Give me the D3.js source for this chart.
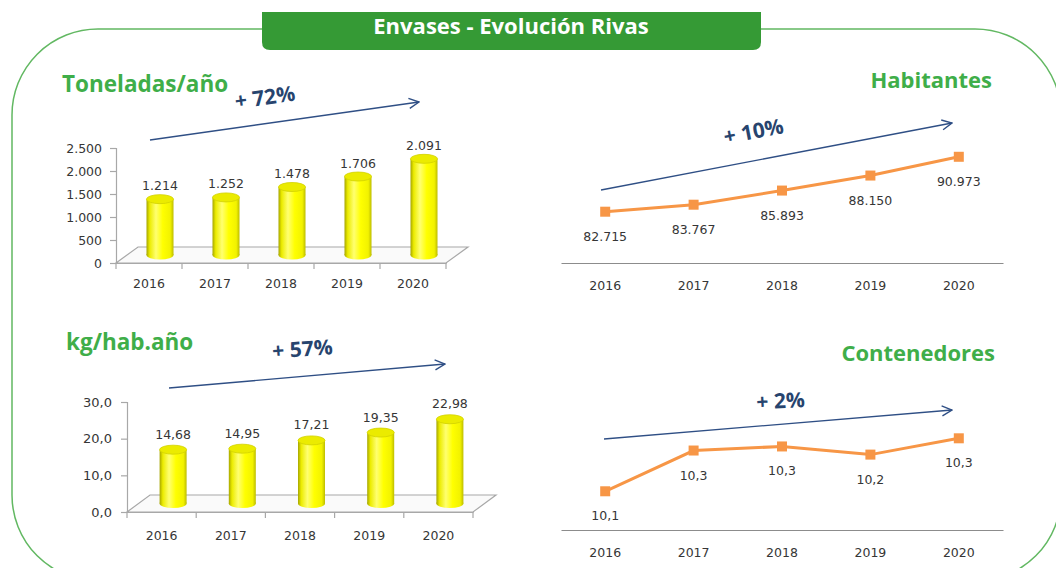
<!DOCTYPE html>
<html>
<head>
<meta charset="utf-8">
<script src="https://cdn.jsdelivr.net/npm/d3@7"></script>
<style>
  html, body { margin: 0; padding: 0; background: #fff; }
  svg { display: block; }
  .num { font-family: "DejaVu Sans", Verdana, sans-serif; font-size: 12.5px; fill: #363636; }
  .ttl { font-family: "Open Sans", sans-serif; font-weight: 700; fill: #3fae49; }
  .pct { font-family: "Open Sans", sans-serif; font-weight: 700; font-size: 21px; fill: #27446e; }
</style>
</head>
<body>
<svg id="chart" width="1056" height="568"></svg>
<script>
"use strict";

// Data.
const years = ["2016", "2017", "2018", "2019", "2020"];
const toneladas = [1214, 1252, 1478, 1706, 2091];
const kgHabAno = [14.68, 14.95, 17.21, 19.35, 22.98];
const habitantes = [82715, 83767, 85893, 88150, 90973];
const contenedores = [10.06, 10.26, 10.28, 10.24, 10.32];
const toneladasTicks = [0, 500, 1000, 1500, 2000, 2500];
const kgTicks = [0, 10, 20, 30];
const growthLabels = ["+ 72%", "+ 57%", "+ 10%", "+ 2%"];

const es = d3.formatLocale({decimal: ",", thousands: ".", grouping: [3], currency: ["", " €"]});

const svg = d3.select("#chart");
const defs = svg.append("defs");

// Cylinder shading.
const grad = defs.append("linearGradient").attr("id", "cyl")
    .attr("x1", "0%").attr("x2", "100%").attr("y1", "0%").attr("y2", "0%");
[["0%", "#a6a600"], ["12%", "#ecec00"], ["35%", "#ffff70"], ["60%", "#ffff00"], ["88%", "#f2f200"], ["100%", "#bdbd00"]]
  .forEach(([o, c]) => grad.append("stop").attr("offset", o).attr("stop-color", c));

defs.append("marker").attr("id", "arrowHead")
    .attr("viewBox", "0 0 12 12").attr("refX", 11).attr("refY", 6)
    .attr("markerWidth", 12).attr("markerHeight", 12)
    .attr("markerUnits", "userSpaceOnUse").attr("orient", "auto")
  .append("path").attr("d", "M1,1 L11,6 L1,11")
    .attr("fill", "none").attr("stroke", "#2f4f85").attr("stroke-width", 1.4);

// Outer frame and heading.
svg.append("rect")
    .attr("x", 12).attr("y", 29).attr("width", 1049).attr("height", 552).attr("rx", 86)
    .attr("fill", "none").attr("stroke", "#62b862").attr("stroke-width", 1.5);

svg.append("path")
    .attr("d", "M262,12 H761 V42 Q761,50 753,50 H270 Q262,50 262,42 Z")
    .attr("fill", "#359a35");
svg.append("text")
    .attr("x", 511).attr("y", 34).attr("text-anchor", "middle")
    .style("font-family", "'Open Sans', sans-serif").style("font-weight", 700)
    .style("font-size", "22px").attr("fill", "#fff")
    .text("Envases - Evolución Rivas");

// Growth arrow with rotated label.
const trendArrow = (p0, p1, label, lift, tx, rot) => {
  svg.append("line")
      .attr("x1", p0[0]).attr("y1", p0[1]).attr("x2", p1[0]).attr("y2", p1[1])
      .attr("stroke", "#2f4f85").attr("stroke-width", 1.4)
      .attr("marker-end", "url(#arrowHead)");
  const ty = p0[1] + (p1[1] - p0[1]) * (tx - p0[0]) / (p1[0] - p0[0]) - lift;
  svg.append("text").attr("class", "pct")
      .attr("text-anchor", "middle")
      .attr("transform", "translate(" + tx + "," + ty + ") rotate(" + rot + ")")
      .text(label);
};

// 3D cylinder bar chart.
const barChart = (cfg) => {
  const g = svg.append("g");
  const x = d3.scaleBand().domain(years).range([cfg.x0, cfg.x1]);
  const y = d3.scaleLinear().domain([0, cfg.max]).range([cfg.y0, cfg.yTop]);
  const [dx, dy] = cfg.depth;

  // Floor.
  g.append("polygon")
      .attr("points", [[cfg.x0, cfg.y0], [cfg.x0 + dx, cfg.y0 + dy], [cfg.x1 + dx, cfg.y0 + dy], [cfg.x1, cfg.y0]].join(" "))
      .attr("fill", "#fafafa").attr("stroke", "#a8a8a8").attr("stroke-width", 1.2);

  // Y axis.
  const yAxis = g.append("g")
      .attr("transform", "translate(" + cfg.x0 + ",0)")
      .call(d3.axisLeft(y).tickValues(cfg.ticks).tickFormat(cfg.tickFmt).tickSize(6).tickPadding(cfg.tickPad));
  yAxis.selectAll("path, line").attr("stroke", "#a8a8a8").attr("stroke-width", 1.2);
  yAxis.selectAll("text").attr("class", "num").style("font-size", cfg.tickFont).attr("font-family", null).attr("font-size", null);

  // X axis: ticks on band edges, labels in the middle.
  const xAxis = g.append("g")
      .attr("transform", "translate(0," + cfg.y0 + ")")
      .call(d3.axisBottom(x).tickSize(0).tickSizeOuter(0).tickPadding(cfg.yearPad));
  xAxis.select("path").attr("stroke", "#a8a8a8").attr("stroke-width", 1.2);
  xAxis.selectAll("text").attr("class", "num").attr("font-family", null).attr("font-size", null);
  g.selectAll("line.edge")
      .data(years.map((d) => x(d)).concat([cfg.x1]))
      .enter().append("line").attr("class", "edge")
      .attr("x1", (d) => d).attr("x2", (d) => d)
      .attr("y1", cfg.y0).attr("y2", cfg.y0 + 6)
      .attr("stroke", "#a8a8a8").attr("stroke-width", 1.2);

  const rx = cfg.barW / 2, ry = 4.5;
  const cx = (d, i) => x(years[i]) + x.bandwidth() / 2 + dx / 2;
  const base = cfg.y0 + dy / 2;

  const bar = g.selectAll("g.bar")
      .data(cfg.values)
      .enter().append("g").attr("class", "bar");

  bar.append("ellipse")
      .attr("cx", cx).attr("cy", base).attr("rx", rx).attr("ry", ry)
      .attr("fill", "url(#cyl)");
  bar.append("rect")
      .attr("x", (d, i) => cx(d, i) - rx).attr("y", (d) => y(d) + dy / 2)
      .attr("width", rx * 2).attr("height", (d) => base - y(d) - dy / 2)
      .attr("fill", "url(#cyl)");
  bar.append("ellipse")
      .attr("cx", cx).attr("cy", (d) => y(d) + dy / 2).attr("rx", rx).attr("ry", ry)
      .attr("fill", "#ebeb00").attr("stroke", "#d2d200").attr("stroke-width", 0.8);
  bar.append("text").attr("class", "num")
      .attr("x", cx).attr("y", (d) => y(d) + dy / 2 - cfg.labelLift)
      .attr("text-anchor", "middle")
      .text(cfg.valueFmt);
};

// Line chart with square markers.
const lineChart = (cfg) => {
  const g = svg.append("g");
  const x = d3.scaleBand().domain(years).range([cfg.x0, cfg.x1]);
  const y = d3.scaleLinear().domain(cfg.domain).range([cfg.y0, cfg.yTop]);
  const px = (d, i) => x(years[i]) + x.bandwidth() / 2;

  const xAxis = g.append("g")
      .attr("transform", "translate(0," + cfg.y0 + ")")
      .call(d3.axisBottom(x).tickSize(0).tickSizeOuter(0).tickPadding(18));
  xAxis.select("path").attr("stroke", "#8c8c8c").attr("stroke-width", 1.2);
  xAxis.selectAll("text").attr("class", "num").attr("font-family", null).attr("font-size", null);

  g.append("path")
      .datum(cfg.values)
      .attr("fill", "none").attr("stroke", "#f79646").attr("stroke-width", 3)
      .attr("d", d3.line().x(px).y((d) => y(d)));

  g.selectAll("rect.mark")
      .data(cfg.values)
      .enter().append("rect").attr("class", "mark")
      .attr("x", (d, i) => px(d, i) - 5).attr("y", (d) => y(d) - 5)
      .attr("width", 10).attr("height", 10)
      .attr("fill", "#f79646");

  g.selectAll("text.val")
      .data(cfg.values)
      .enter().append("text").attr("class", "num val")
      .attr("x", px).attr("y", (d) => y(d) + 29)
      .attr("text-anchor", "middle")
      .style("font-size", cfg.valFont)
      .text(cfg.valueFmt);
};

// Toneladas/año
svg.append("text").attr("class", "ttl").attr("x", 62).attr("y", 92).style("font-size", "22.5px").text("Toneladas/año");
trendArrow([150, 140], [419, 102], growthLabels[0], 19, 266, -8);
barChart({
  x0: 116, x1: 446, y0: 263, yTop: 148, max: 2500, ticks: toneladasTicks,
  depth: [22, -16], barW: 27, values: toneladas, labelLift: 9,
  tickFmt: es.format(",d"), valueFmt: es.format(",d"), tickPad: 8, tickFont: "12.5px", yearPad: 16
});

// kg/hab.año
svg.append("text").attr("class", "ttl").attr("x", 66).attr("y", 350).style("font-size", "22.5px").text("kg/hab.año");
trendArrow([169, 388], [445, 364], growthLabels[1], 20, 303, -4);
barChart({
  x0: 127, x1: 473, y0: 512, yTop: 402, max: 30, ticks: kgTicks,
  depth: [23, -17], barW: 27, values: kgHabAno, labelLift: 11,
  tickFmt: es.format(",.1f"), valueFmt: es.format(",.2f"), tickPad: 9, tickFont: "13px", yearPad: 19
});

// Habitantes
svg.append("text").attr("class", "ttl").attr("x", 992).attr("y", 88).attr("text-anchor", "end").style("font-size", "22px").text("Habitantes");
trendArrow([601, 190], [952, 123], growthLabels[2], 22, 755, -11);
lineChart({
  x0: 561, x1: 1003, y0: 263, yTop: 130, domain: [75000, 95000],
  values: habitantes, valueFmt: es.format(",d"), valFont: "12.5px"
});

// Contenedores
svg.append("text").attr("class", "ttl").attr("x", 995).attr("y", 361).attr("text-anchor", "end").style("font-size", "22px").text("Contenedores");
trendArrow([604, 439], [952, 410], growthLabels[3], 16, 781, -3);
lineChart({
  x0: 561, x1: 1003, y0: 530, yTop: 422, domain: [9.87, 10.4],
  values: contenedores, valueFmt: es.format(",.1f"), valFont: "12.5px"
});
</script>
</body>
</html>
